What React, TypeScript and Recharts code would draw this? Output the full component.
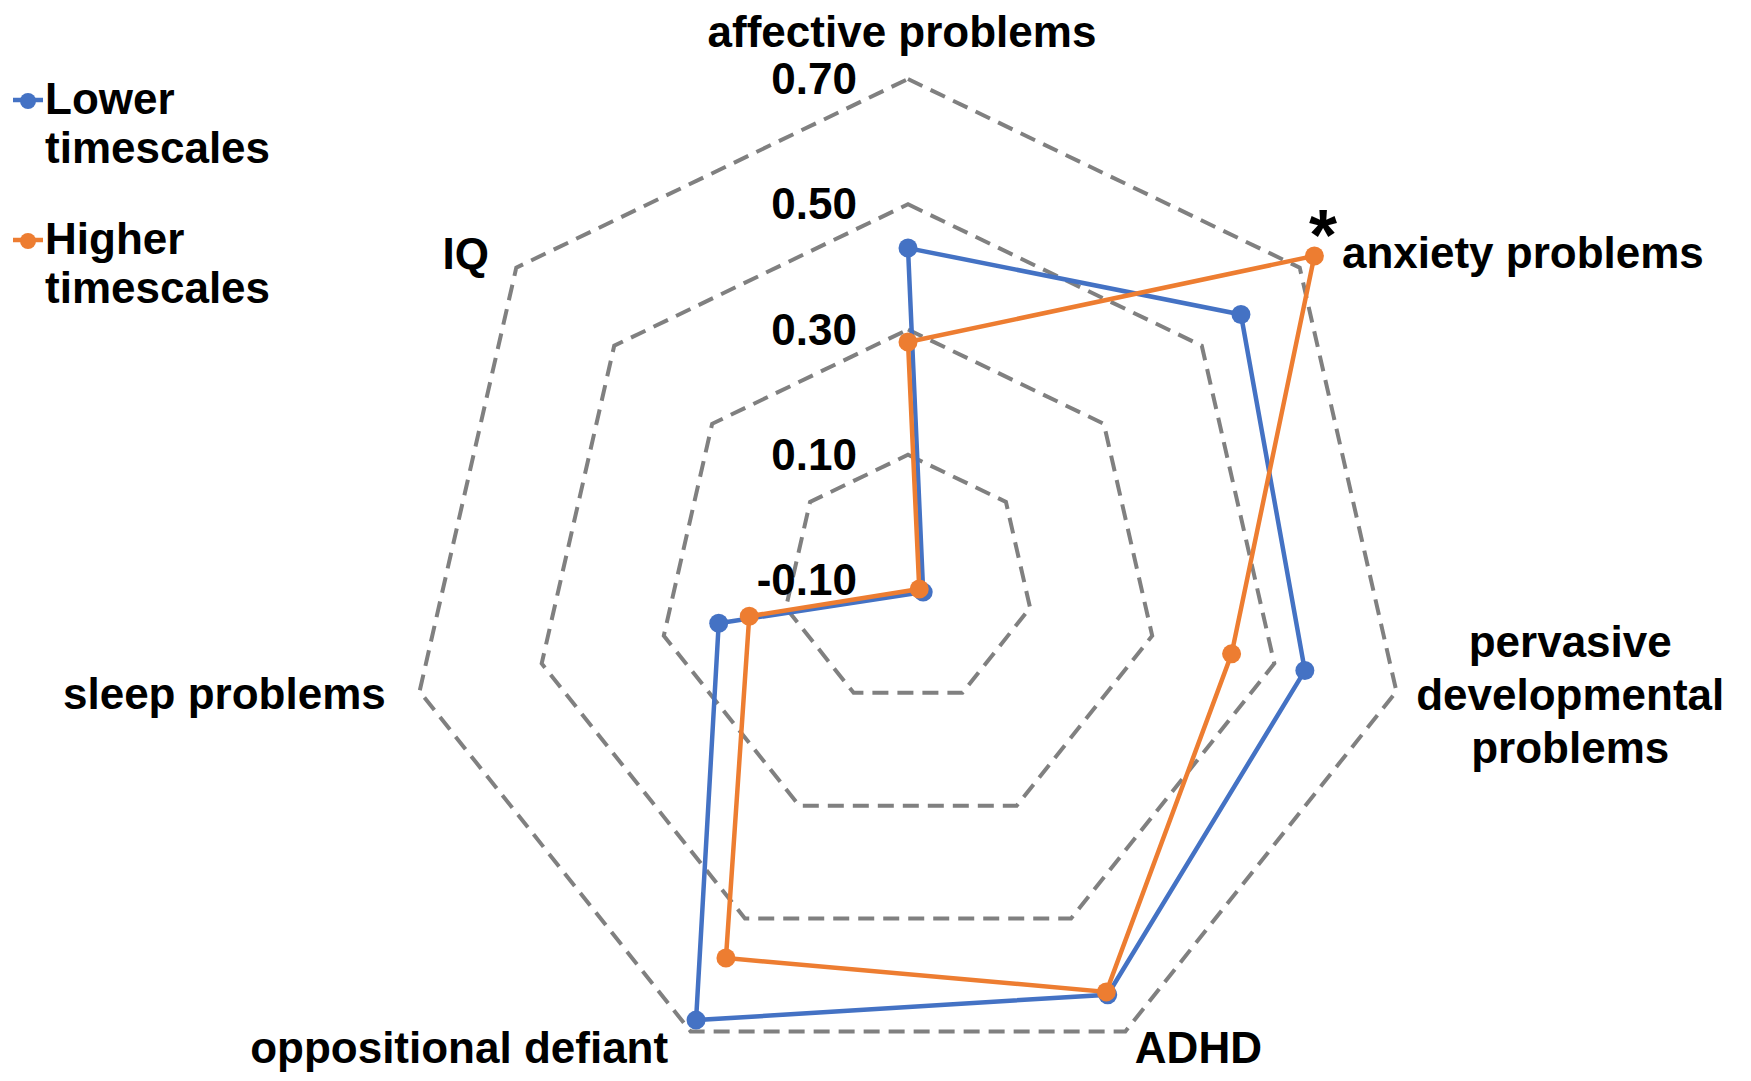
import { RadarChart, Radar, PolarGrid, PolarAngleAxis, PolarRadiusAxis, Legend } from 'recharts';

const categories = [
  'affective problems',
  'anxiety problems',
  'pervasive developmental problems',
  'ADHD',
  'oppositional defiant',
  'sleep problems',
  'IQ',
];
const seriesNames = ['Lower timescales', 'Higher timescales'];
const lowerTimescales = [0.43, 0.58, 0.55, 0.635, 0.68, 0.21, -0.131];
const higherTimescales = [0.28, 0.73, 0.43, 0.63, 0.57, 0.16, -0.123];
const radiusTicks = [-0.1, 0.1, 0.3, 0.5, 0.7];
const significant = ['anxiety problems'];

const FONT = '"Liberation Sans", Arial, sans-serif';
const BLUE = '#4472C4';
const ORANGE = '#ED7D31';

const data = categories.map((c, i) => ({
  category: c,
  lower: lowerTimescales[i],
  higher: higherTimescales[i],
}));

// where each category label sits relative to the axis end point
const labelLayout: Record<string, { lines: string[]; anchor: 'start' | 'middle' | 'end'; dx: number; dy: number }> = {
  'affective problems': { lines: ['affective problems'], anchor: 'middle', dx: -6, dy: -24 },
  'anxiety problems': { lines: ['anxiety problems'], anchor: 'start', dx: 36, dy: 5 },
  'pervasive developmental problems': {
    lines: ['pervasive', 'developmental', 'problems'], anchor: 'middle', dx: 166, dy: -36,
  },
  ADHD: { lines: ['ADHD'], anchor: 'start', dx: 6, dy: 24 },
  'oppositional defiant': { lines: ['oppositional defiant'], anchor: 'end', dx: -19, dy: 24 },
  'sleep problems': { lines: ['sleep problems'], anchor: 'end', dx: -26, dy: 16 },
  IQ: { lines: ['IQ'], anchor: 'end', dx: -21, dy: 6 },
};

function AngleTick(props: any) {
  const { x, y, payload } = props;
  const name = payload.value as string;
  const lay = labelLayout[name];
  return (
    <g>
      <text x={x + lay.dx} y={y + lay.dy} textAnchor={lay.anchor} fontFamily={FONT} fontWeight="bold" fontSize={44} fill="#000">
        {lay.lines.map((l, i) => (
          <tspan key={i} x={x + lay.dx} dy={i === 0 ? 0 : 53}>{l}</tspan>
        ))}
      </text>
      {significant.includes(name) && (
        <text x={x + lay.dx - 19} y={y + lay.dy - 8} textAnchor="middle" fontFamily={FONT} fontWeight="bold" fontSize={72} fill="#000">
          *
        </text>
      )}
    </g>
  );
}

function RadiusTick(props: any) {
  const { x, y, payload } = props;
  return (
    <text x={x - 51} y={y + 15} textAnchor="end" fontFamily={FONT} fontWeight="bold" fontSize={44} fill="#000">
      {Number(payload.value).toFixed(2)}
    </text>
  );
}

function LegendContent(props: any) {
  const items = [...(props.payload || [])].sort(
    (a: any, b: any) => seriesNames.indexOf(a.value) - seriesNames.indexOf(b.value),
  );
  return (
    <svg width={280} height={330}>
      {items.map((it: any, i: number) => {
        const words = String(it.value).split(' ');
        const top = 100 + i * 140;
        return (
          <g key={i}>
            <line x1={13} x2={43} y1={top} y2={top} stroke={it.color} strokeWidth={4.5} />
            <circle cx={28} cy={top + 1} r={8} fill={it.color} />
            <text fontFamily={FONT} fontWeight="bold" fontSize={44} fill="#000">
              {words.map((w: string, j: number) => (
                <tspan key={j} x={45} y={top + 14 + j * 49}>{w}</tspan>
              ))}
            </text>
          </g>
        );
      })}
    </svg>
  );
}

export default function App() {
  return (
    <div style={{ position: 'absolute', left: 0, top: 0, width: 1751, height: 1081, background: '#fff' }}>
      <RadarChart
        width={1751}
        height={1081}
        data={data}
        cx={908}
        cy={580}
        innerRadius={0}
        outerRadius={501}
        margin={{ top: 0, right: 0, bottom: 0, left: 0 }}
      >
        <PolarGrid gridType="polygon" radialLines={false} stroke="#808080" strokeWidth={4} strokeDasharray="16 9" />
        <PolarAngleAxis dataKey="category" tick={AngleTick} tickLine={false} axisLine={false} />
        {/* allowDecimals matters: without it recharts stretches the domain to 1.0 */}
        <PolarRadiusAxis
          angle={90}
          type="number"
          domain={[-0.1, 0.7]}
          ticks={radiusTicks}
          allowDataOverflow
          allowDecimals
          axisLine={false}
          tickLine={false}
          tick={RadiusTick}
        />
        <Radar
          name={seriesNames[0]}
          dataKey="lower"
          stroke={BLUE}
          strokeWidth={4.5}
          fill="none"
          fillOpacity={0}
          dot={{ r: 9.5, fill: BLUE, stroke: BLUE, strokeWidth: 0, fillOpacity: 1 }}
          isAnimationActive={false}
        />
        <Radar
          name={seriesNames[1]}
          dataKey="higher"
          stroke={ORANGE}
          strokeWidth={4.5}
          fill="none"
          fillOpacity={0}
          dot={{ r: 9.5, fill: ORANGE, stroke: ORANGE, strokeWidth: 0, fillOpacity: 1 }}
          isAnimationActive={false}
        />
        <Legend
          layout="horizontal"
          verticalAlign="middle"
          align="center"
          content={LegendContent}
          wrapperStyle={{ position: 'absolute', left: 0, top: 0, width: 280, height: 330 }}
        />
      </RadarChart>
    </div>
  );
}
